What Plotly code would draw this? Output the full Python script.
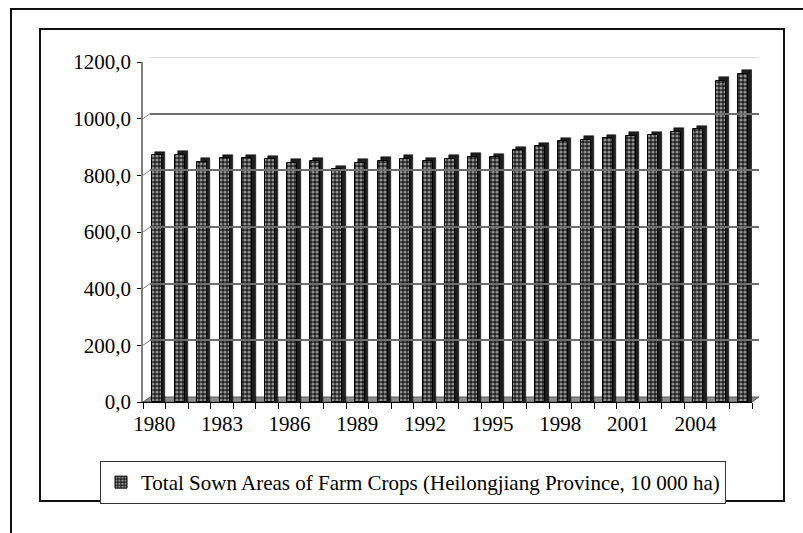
import plotly.graph_objects as go

# ---- data ----
years = list(range(1980, 2007))
sown_area = [871, 872, 848, 860, 860, 856, 844, 849, 822, 844, 852, 859, 849, 859,
             866, 863, 889, 903, 920, 926, 931, 940, 941, 953, 962, 1133, 1159]
year_ticks = [1980, 1983, 1986, 1989, 1992, 1995, 1998, 2001, 2004]
y_ticks = [0, 200, 400, 600, 800, 1000, 1200]
series_name = "Total Sown Areas of Farm Crops (Heilongjiang Province, 10 000 ha)"

# ---- geometry (pixels) ----
W, H = 803, 533
L, R, T, B = 143, 44, 57, 131
PW, PH = W - L - R, H - T - B
DX, DY = 7, 5                      # 3-D depth offset of back wall
y_range = [0, 1200]
px_per_unit = (PH - DY) / (y_range[1] - y_range[0])
FONT = "Liberation Serif"
FS = 21

fig = go.Figure()

# dark side/top face of each column (3-D look)
fig.add_trace(go.Bar(
    x=years, y=[v + 3.5 / px_per_unit for v in sown_area],
    width=0.44, offset=-0.1 + 0.15,
    marker=dict(color="#1e1e1e", line=dict(color="#000000", width=0.5)),
    showlegend=False, hoverinfo="skip"))

# front face with checkered pattern
fig.add_trace(go.Bar(
    x=years, y=sown_area, name=series_name,
    width=0.44, offset=-0.1,
    marker=dict(color="#262626",
                line=dict(color="#000000", width=1),
                pattern=dict(shape=".", fgcolor="#ffffff", bgcolor="#202020",
                             size=4, solidity=0.5))))

x_dom = [0, (PW - DX) / PW]
y_dom = [0, (PH - DY) / PH]

shapes = []
fx = lambda p: (p - L) / PW
fy = lambda p: (T + PH - p) / PH
# floor
floor_pts = [(L, T + PH), (L + PW - DX, T + PH), (L + PW, T + PH - DY), (L + DX, T + PH - DY)]
path = "M " + " L ".join(f"{fx(a):.5f},{fy(b):.5f}" for a, b in floor_pts) + " Z"
shapes.append(dict(type="path", xref="paper", yref="paper", path=path,
                   fillcolor="#8c8c8c", line=dict(color="#5a5a5a", width=1), layer="below"))
# top wall line (light)
shapes.append(dict(type="line", xref="x2 domain", yref="y2", x0=0, x1=1,
                   y0=y_ticks[-1], y1=y_ticks[-1], line=dict(color="#cfcfcf", width=1.5),
                   layer="below"))
# connectors from axis ticks to back-wall gridlines
for v in y_ticks[1:]:
    shapes.append(dict(type="line", xref="paper", yref="y", x0=0, x1=DX / PW,
                       y0=v, y1=v + DY / px_per_unit,
                       line=dict(color="#808080" if v < y_ticks[-1] else "#cfcfcf", width=1),
                       layer="below"))
# inner frame
shapes.append(dict(type="rect", xref="paper", yref="paper",
                   x0=fx(40), x1=fx(784), y0=fy(501), y1=fy(29),
                   line=dict(color="#111111", width=2)))
# outer frame (extends past the page on right/bottom)
shapes.append(dict(type="rect", xref="paper", yref="paper",
                   x0=fx(11), x1=fx(830), y0=fy(560), y1=fy(9),
                   line=dict(color="#111111", width=2)))

fig.update_layout(
    width=W, height=H,
    margin=dict(l=L, r=R, t=T, b=B, pad=0, autoexpand=False),
    paper_bgcolor="white", plot_bgcolor="rgba(0,0,0,0)",
    font=dict(family=FONT, size=FS, color="#000000"),
    separators=", ",
    barmode="overlay", bargap=0,
    showlegend=True,
    legend=dict(x=fx(100), xanchor="left", y=fy(461), yanchor="top",
                bordercolor="#333333", borderwidth=1, bgcolor="white",
                font=dict(family=FONT, size=FS), itemwidth=30,
                tracegroupgap=0),
    xaxis=dict(domain=x_dom, range=[years[0] - 0.5, years[-1] + 0.5],
               tickvals=year_ticks, ticktext=[str(y) for y in year_ticks],
               ticks="outside", ticklen=3, tickcolor="rgba(0,0,0,0)",
               minor=dict(tickvals=[y - 0.5 for y in years] + [years[-1] + 0.5],
                          ticks="outside", ticklen=6, tickcolor="#000000", showgrid=False),
               showline=True, linecolor="#000000", linewidth=1,
               showgrid=False, zeroline=False, fixedrange=True),
    yaxis=dict(domain=y_dom, range=y_range, tickvals=y_ticks, tickformat=".1f",
               ticks="outside", ticklen=4, tickcolor="#000000",
               ticklabelstandoff=2,
               showline=True, linecolor="#808080", linewidth=1.5,
               showgrid=False, zeroline=False),
    xaxis2=dict(domain=[DX / PW, 1], range=[0, 1], anchor="y2",
                showticklabels=False, showgrid=False, zeroline=False,
                showline=False, ticks=""),
    yaxis2=dict(domain=[DY / PH, 1], range=y_range, anchor="x2",
                tickvals=y_ticks[1:-1], showticklabels=False, ticks="",
                showgrid=True, gridcolor="#6e6e6e", gridwidth=1.5,
                zeroline=False, showline=False),
    shapes=shapes,
)

fig.write_html("out.html", config={"displayModeBar": False},
               post_script="document.body.style.margin='0px';document.body.style.padding='0px';")
